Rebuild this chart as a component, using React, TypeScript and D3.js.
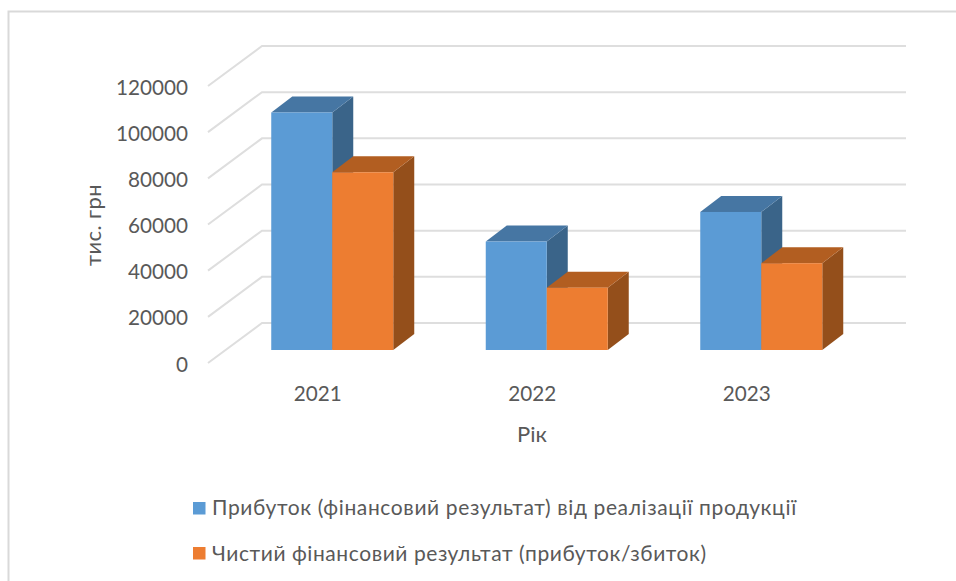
import React from "react";
import * as d3 from "d3";

const years = ["2021", "2022", "2023"];
const profit = [102900, 47000, 59800];
const netResult = [77000, 27000, 37600];
const yTicks = [0, 20000, 40000, 60000, 80000, 100000, 120000];
const seriesNames = [
  "Прибуток (фінансовий результат) від реалізації продукції",
  "Чистий фінансовий результат (прибуток/збиток)",
];
const seriesValues = [profit, netResult];
const faceColors = ["#5B9BD5", "#ED7D31"];
const topColors = ["#4676A3", "#B25E21"];
const sideColors = ["#3A6489", "#944F1B"];

const FONT = "Lato, Carlito, 'Open Sans', sans-serif";
const GRID = "#DEDEDE";
const TEXT = "#595959";

// Oblique projection of the 3D box: wall depth and bar depth in screen pixels.
const wallDx = -54;
const wallDy = 40;
const barDx = 21;
const barDy = -16;
const barFrontDrop = 27;

const y = d3.scaleLinear().domain([0, 120000]).range([323, 46]);
const x0 = d3.scaleBand<string>().domain(years).range([225, 868.5]);
const x1 = d3
  .scaleBand<number>()
  .domain([0, 1])
  .range([46.25, x0.bandwidth() - 46.25]);

export default function App() {
  const baseY = y(0) + barFrontDrop;
  return (
    <svg
      width={956}
      height={581}
      style={{ position: "absolute", left: 0, top: 0, background: "#fff" }}
      fontFamily={FONT}
    >
      {/* Chart frame: only the top and left edges are in view */}
      <path d="M8.5 581V11.5H956" fill="none" stroke="#D9D9D9" strokeWidth={2} />

      {/* Back wall gridlines and their floor-side diagonals */}
      {yTicks.map((t) => (
        <path
          key={t}
          d={`M${262 + wallDx} ${y(t) + wallDy}L262 ${y(t)}H906`}
          fill="none"
          stroke={GRID}
          strokeWidth={2}
        />
      ))}

      {/* Value axis labels */}
      {yTicks.map((t) => (
        <text
          key={t}
          x={188}
          y={y(t) + wallDy + 0.5}
          textAnchor="end"
          dominantBaseline="central"
          fontSize={20.7}
          fill={TEXT}
        >
          {t}
        </text>
      ))}

      {/* Boxes: back series first so the next one covers its side */}
      {years.map((yr, i) =>
        seriesValues.map((vals, s) => {
          const left = (x0(yr) ?? 0) + (x1(s) ?? 0);
          const w = x1.bandwidth();
          const top = y(vals[i]) + barFrontDrop;
          return (
            <g key={`${yr}-${s}`}>
              <path
                d={`M${left + w} ${top}l${barDx} ${barDy}V${baseY + barDy}l${-barDx} ${-barDy}Z`}
                fill={sideColors[s]}
              />
              <path
                d={`M${left} ${top}l${barDx} ${barDy}h${w}l${-barDx} ${-barDy}Z`}
                fill={topColors[s]}
              />
              <rect x={left} y={top} width={w} height={baseY - top} fill={faceColors[s]} />
            </g>
          );
        })
      )}

      {/* Category axis */}
      {years.map((yr) => (
        <text
          key={yr}
          x={(x0(yr) ?? 0) + x0.bandwidth() / 2 - 14.5}
          y={393}
          textAnchor="middle"
          dominantBaseline="central"
          fontSize={20.7}
          fill={TEXT}
        >
          {yr}
        </text>
      ))}

      {/* Axis titles */}
      <text x={532} y={433} textAnchor="middle" dominantBaseline="central" fontSize={22} fill={TEXT}>
        Рік
      </text>
      <text
        transform="translate(92 225) rotate(-90)"
        textAnchor="middle"
        dominantBaseline="central"
        fontSize={22}
        letterSpacing={0.4}
        fill={TEXT}
      >
        тис. грн
      </text>

      {/* Legend */}
      {seriesNames.map((name, s) => (
        <g key={name}>
          <rect x={193} y={502 + s * 45} width={12.5} height={12.5} fill={faceColors[s]} />
          <text
            x={212}
            y={506 + s * 46}
            dominantBaseline="central"
            fontSize={21}
            letterSpacing={s === 0 ? 0.62 : 0.57}
            fill={TEXT}
          >
            {name}
          </text>
        </g>
      ))}
    </svg>
  );
}
